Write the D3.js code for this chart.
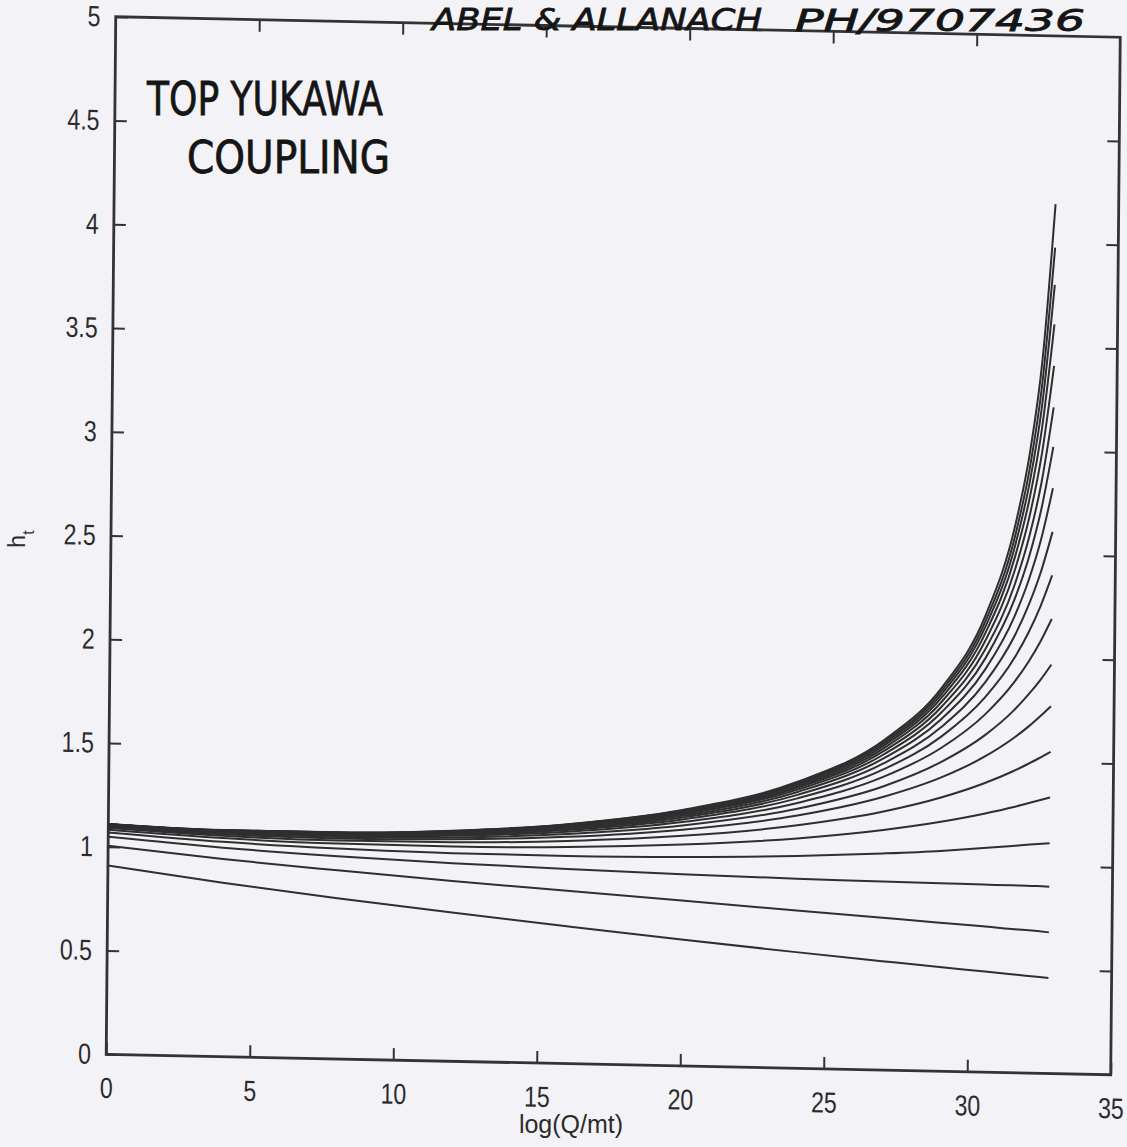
<!DOCTYPE html>
<html>
<head>
<meta charset="utf-8">
<script src="https://cdn.jsdelivr.net/npm/d3@7"></script>
<style>
  html, body { margin: 0; padding: 0; background: #f3f2f7; }
  svg { display: block; }
</style>
</head>
<body>
<div id="chart"></div>
<script>
// Axis ticks
const xTicks = [0, 5, 10, 15, 20, 25, 30, 35];
const yTicks = [0, 0.5, 1, 1.5, 2, 2.5, 3, 3.5, 4, 4.5, 5];

// log(Q/mt) sample points shared by every run
const qGrid = [0, 4, 8, 12, 16, 20, 24, 27, 29, 30.5, 31.5, 32, 32.4, 32.8];

// h_t along each run (top run first)
const h01 = [1.110, 1.092, 1.092, 1.111, 1.154, 1.234, 1.381, 1.591, 1.850, 2.203, 2.638, 3.001, 3.443, 4.190];
const h02 = [1.110, 1.091, 1.091, 1.110, 1.153, 1.231, 1.376, 1.583, 1.835, 2.176, 2.588, 2.926, 3.328, 3.980];
const h03 = [1.109, 1.091, 1.091, 1.109, 1.151, 1.229, 1.372, 1.574, 1.820, 2.149, 2.540, 2.855, 3.222, 3.800];
const h04 = [1.109, 1.090, 1.090, 1.108, 1.149, 1.226, 1.366, 1.564, 1.803, 2.118, 2.486, 2.776, 3.108, 3.610];
const h05 = [1.108, 1.089, 1.089, 1.107, 1.147, 1.222, 1.359, 1.552, 1.782, 2.081, 2.423, 2.687, 2.981, 3.410];
const h06 = [1.108, 1.088, 1.088, 1.105, 1.144, 1.217, 1.352, 1.538, 1.758, 2.039, 2.353, 2.590, 2.847, 3.210];
const h07 = [1.107, 1.087, 1.086, 1.103, 1.141, 1.213, 1.343, 1.522, 1.731, 1.994, 2.282, 2.493, 2.717, 3.020];
const h08 = [1.106, 1.086, 1.084, 1.100, 1.137, 1.206, 1.332, 1.503, 1.699, 1.941, 2.198, 2.382, 2.571, 2.820];
const h09 = [1.105, 1.084, 1.082, 1.097, 1.132, 1.198, 1.318, 1.479, 1.660, 1.878, 2.102, 2.258, 2.413, 2.610];
const h10 = [1.103, 1.082, 1.079, 1.092, 1.126, 1.188, 1.301, 1.450, 1.614, 1.806, 1.996, 2.124, 2.249, 2.400];
const h11 = [1.101, 1.079, 1.075, 1.087, 1.118, 1.176, 1.279, 1.414, 1.559, 1.723, 1.880, 1.981, 2.077, 2.190];
const h12 = [1.099, 1.076, 1.070, 1.079, 1.107, 1.159, 1.251, 1.368, 1.491, 1.623, 1.745, 1.822, 1.891, 1.970];
const h13 = [1.095, 1.071, 1.063, 1.070, 1.093, 1.139, 1.218, 1.317, 1.416, 1.520, 1.612, 1.667, 1.717, 1.770];
const h14 = [1.090, 1.064, 1.053, 1.056, 1.073, 1.109, 1.171, 1.246, 1.319, 1.392, 1.453, 1.488, 1.518, 1.550];
const h15 = [1.082, 1.053, 1.038, 1.035, 1.044, 1.067, 1.108, 1.157, 1.202, 1.245, 1.279, 1.299, 1.314, 1.330];
const h16 = [1.069, 1.035, 1.014, 1.003, 1.001, 1.007, 1.023, 1.044, 1.062, 1.080, 1.093, 1.100, 1.105, 1.110];
const h17 = [1.048, 1.007, 0.977, 0.955, 0.938, 0.924, 0.914, 0.909, 0.906, 0.904, 0.903, 0.903, 0.902, 0.900];
const h18 = [1.005, 0.952, 0.909, 0.869, 0.833, 0.797, 0.761, 0.734, 0.716, 0.703, 0.693, 0.689, 0.685, 0.680];
const h19 = [0.910, 0.838, 0.775, 0.717, 0.662, 0.609, 0.560, 0.525, 0.502, 0.486, 0.475, 0.469, 0.465, 0.460];

const runs = [h01, h02, h03, h04, h05, h06, h07, h08, h09, h10,
              h11, h12, h13, h14, h15, h16, h17, h18, h19];

const W = 1005, H = 1037;
const ink = '#333';

const svg = d3.select('#chart').append('svg')
  .attr('width', 1127)
  .attr('height', 1147);

// the scan is slightly skewed, so the plot frame gets a small affine tilt
const plot = svg.append('g')
  .attr('transform', 'matrix(0.9995,0.0204,-0.0092,1.0005,115.75,16.75)');

const x = d3.scaleLinear().domain([0, 35]).range([0, W]);
const y = d3.scaleLinear().domain([0, 5]).range([H, 0]);

// printed tick numbers are tall and a bit narrow
const tickFont = g => g.selectAll('text')
  .attr('fill', '#2b2b2b')
  .style('font-family', '"Liberation Sans", Arial, sans-serif')
  .style('font-size', '29px')
  .attr('transform', 'scale(0.8,1)');

const tickLines = g => g.selectAll('.tick line')
  .attr('stroke', ink)
  .attr('stroke-width', 2);

// bottom + left with labels, top + right ticks only
plot.append('g')
  .attr('transform', `translate(0,${H})`)
  .call(d3.axisBottom(x).tickValues(xTicks).tickSize(-12).tickPadding(23).tickFormat(d => d))
  .call(g => g.select('.domain').remove())
  .call(tickLines)
  .call(tickFont);

plot.append('g')
  .call(d3.axisLeft(y).tickValues(yTicks).tickSize(-12).tickPadding(19).tickFormat(d => d))
  .call(g => g.select('.domain').remove())
  .call(tickLines)
  .call(tickFont);

plot.append('g')
  .call(d3.axisTop(x).tickValues(xTicks.slice(1, -1)).tickSize(-12).tickFormat(''))
  .call(g => g.select('.domain').remove())
  .call(tickLines);

plot.append('g')
  .attr('transform', `translate(${W},0)`)
  .call(d3.axisRight(y).tickValues(yTicks.slice(1, -1)).tickSize(-12).tickFormat(''))
  .call(g => g.select('.domain').remove())
  .call(tickLines);

plot.append('rect')
  .attr('width', W)
  .attr('height', H)
  .attr('fill', 'none')
  .attr('stroke', ink)
  .attr('stroke-width', 2.8);

// RG runs
const line = d3.line()
  .x((d, i) => x(qGrid[i]))
  .y(d => y(d))
  .curve(d3.curveMonotoneX);

plot.selectAll('.run')
  .data(runs)
  .enter()
  .append('path')
  .attr('class', 'run')
  .attr('fill', 'none')
  .attr('stroke', '#2f2f2f')
  .attr('stroke-width', 2)
  .attr('d', line);

// axis titles
svg.append('text')
  .attr('x', 571)
  .attr('y', 1133)
  .attr('text-anchor', 'middle')
  .attr('fill', '#2b2b2b')
  .style('font-family', '"Liberation Sans", Arial, sans-serif')
  .style('font-size', '25px')
  .text('log(Q/mt)');

const yTitle = svg.append('text')
  .attr('transform', 'translate(25,539) rotate(-90)')
  .attr('text-anchor', 'middle')
  .attr('fill', '#2b2b2b')
  .style('font-family', '"Liberation Sans", Arial, sans-serif')
  .style('font-size', '23px');
yTitle.append('tspan').text('h');
yTitle.append('tspan').attr('baseline-shift', 'sub').style('font-size', '16px').text('t');

// handwritten notes on the scan
const hand = (txt, px, py, len, size, italic) => svg.append('text')
  .attr('x', px)
  .attr('y', py)
  .attr('textLength', len)
  .attr('lengthAdjust', 'spacingAndGlyphs')
  .attr('fill', '#151515')
  .attr('stroke', '#151515')
  .attr('stroke-width', 0.8)
  .style('font-family', '"DejaVu Sans", sans-serif')
  .style('font-style', italic ? 'italic' : 'normal')
  .style('font-size', size + 'px')
  .text(txt);

hand('TOP YUKAWA', 147, 115, 236, 46, false);
hand('COUPLING', 187, 173, 203, 45, false);
hand('ABEL & ALLANACH', 432, 30, 330, 30, true);
hand('PH/9707436', 795, 31, 290, 30, true);
</script>
</body>
</html>
